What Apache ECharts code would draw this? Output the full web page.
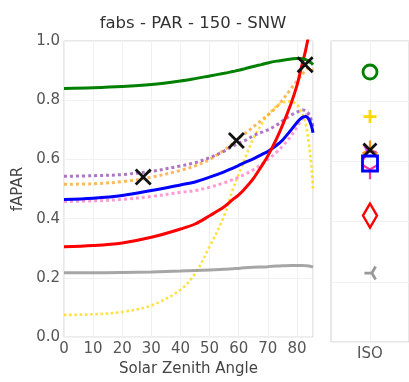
<!DOCTYPE html>
<html>
<head>
<meta charset="utf-8">
<script src="https://cdn.jsdelivr.net/npm/echarts@6/dist/echarts.min.js"></script>
<style>
  html, body { margin: 0; padding: 0; background: #fff; }
  #chart { width: 409px; height: 382px; }
</style>
</head>
<body>
<div id="chart"></div>
<script>
// Solar zenith angles (degrees) at which the curves are sampled
const sza = [0, 10, 20, 30, 40, 45, 50, 55, 58, 60, 62, 65, 68, 70, 73, 75, 78, 80, 81, 82, 83, 84, 85, 85.5];

// fAPAR curves per model
const greenVals  = [0.840, 0.842, 0.846, 0.853, 0.865, 0.873, 0.882, 0.891, 0.897, 0.901, 0.906, 0.914, 0.921, 0.926, 0.932, 0.935, 0.939, 0.941, 0.941, 0.940, 0.937, 0.932, 0.925, 0.920];
const redVals    = [0.305, 0.309, 0.318, 0.337, 0.365, 0.382, 0.410, 0.440, 0.465, 0.480, 0.500, 0.535, 0.580, 0.612, 0.670, 0.715, 0.790, 0.850, 0.890, 0.930, 0.970, 1.020, 1.080, 1.110];
const blueVals   = [0.465, 0.469, 0.478, 0.495, 0.514, 0.524, 0.540, 0.558, 0.571, 0.580, 0.589, 0.602, 0.617, 0.627, 0.648, 0.665, 0.700, 0.725, 0.735, 0.743, 0.745, 0.737, 0.712, 0.690];
const pinkVals   = [0.458, 0.460, 0.465, 0.475, 0.489, 0.495, 0.506, 0.521, 0.532, 0.540, 0.549, 0.565, 0.585, 0.600, 0.625, 0.645, 0.680, 0.710, 0.726, 0.740, 0.750, 0.745, 0.722, 0.700];
const purpleVals = [0.543, 0.545, 0.549, 0.560, 0.578, 0.589, 0.606, 0.628, 0.645, 0.655, 0.663, 0.680, 0.692, 0.700, 0.716, 0.730, 0.750, 0.760, 0.764, 0.767, 0.765, 0.755, 0.730, 0.710];
const orangeVals = [0.516, 0.518, 0.525, 0.540, 0.563, 0.578, 0.600, 0.632, 0.655, 0.672, 0.686, 0.710, 0.734, 0.750, 0.777, 0.800, 0.840, 0.865, 0.877, 0.890, 0.900, 0.909, 0.905, 0.900];
const goldVals   = [0.075, 0.077, 0.085, 0.107, 0.160, 0.215, 0.306, 0.410, 0.500, 0.550, 0.600, 0.670, 0.722, 0.750, 0.780, 0.792, 0.796, 0.785, 0.770, 0.750, 0.720, 0.660, 0.570, 0.500];
const grayVals   = [0.217, 0.217, 0.218, 0.220, 0.223, 0.225, 0.227, 0.229, 0.231, 0.232, 0.234, 0.236, 0.237, 0.238, 0.240, 0.241, 0.242, 0.242, 0.242, 0.242, 0.241, 0.240, 0.238, 0.236];

// Observed fAPAR (black crosses)
const obsSza  = [27.2, 59.2, 82.8];
const obsVals = [0.541, 0.664, 0.920];

// Isotropic (ISO) values per model, right panel
const isoCategories = ['ISO'];
const isoGreen  = [0.897];
const isoGold   = [0.749];
const isoOrange = [0.648];
const isoPurple = [0.632];
const isoObs    = [0.638];
const isoBlue   = [0.593];
const isoPink   = [0.565];
const isoRed    = [0.420];
const isoGray   = [0.229];

// Axis ticks
const xTicks = [0, 10, 20, 30, 40, 50, 60, 70, 80];
const yTicks = [0.0, 0.2, 0.4, 0.6, 0.8, 1.0];

const FONT = 'DejaVu Sans';
const pair = vals => sza.map((x, i) => [x, vals[i]]);

const X_PATH = 'path://M0,0L10,10M10,0L0,10';
const PLUS_PATH = 'path://M5,0L5,10M0,5L10,5';
const DIAMOND_PATH = 'path://M5,0L10,10L5,20L0,10Z';
const TRI_UP_PATH = 'path://M5,5L5,0M5,5L0.67,7.5M5,5L9.33,7.5';
const TRI_DOWN_PATH = 'path://M5,5L5,10M5,5L0.67,2.5M5,5L9.33,2.5';
const TRI_LEFT_PATH = 'path://M5,5L0,5M5,5L7.5,0.67M5,5L7.5,9.33';
const TRI_RIGHT_PATH = 'path://M5,5L10,5M5,5L2.5,0.67M5,5L2.5,9.33';

function curve(name, vals, color, dotted, width) {
  return {
    name, type: 'line', xAxisIndex: 0, yAxisIndex: 0,
    data: pair(vals), showSymbol: false, smooth: 0.35, clip: true,
    lineStyle: { color, width, type: dotted ? 'dotted' : 'solid' },
    z: dotted ? 3 : 4, silent: true
  };
}

function isoMarker(name, vals, symbol, size, color, width, keepAspect = true) {
  return {
    name: name + ' ISO', type: 'scatter', xAxisIndex: 1, yAxisIndex: 1,
    data: isoCategories.map((c, i) => [c, vals[i]]),
    symbol, symbolSize: size, symbolKeepAspect: keepAspect,
    itemStyle: { color: 'rgba(0,0,0,0)', borderColor: color, borderWidth: width, opacity: 1 },
    z: 5, silent: true
  };
}

const axisLabelStyle = { color: '#555', fontFamily: FONT, fontSize: 15 };

const option = {
  backgroundColor: '#fff',
  animation: false,
  title: {
    text: 'fabs - PAR - 150 - SNW',
    left: 188, top: 10, textAlign: 'center',
    textStyle: { color: '#333', fontFamily: FONT, fontSize: 16.5, fontWeight: 'normal' }
  },
  grid: [
    { left: 64, right: 96, top: 41, bottom: 40, show: true, borderColor: '#d0d0d0', borderWidth: 1, backgroundColor: '#fff' },
    { left: 331, right: -4, top: 41, bottom: 40, show: true, borderColor: '#d0d0d0', borderWidth: 1, backgroundColor: '#fff' }
  ],
  xAxis: [
    {
      type: 'value', gridIndex: 0, min: 0, max: 85.5, interval: 10,
      axisLine: { show: false }, axisTick: { show: false },
      axisLabel: Object.assign({ margin: 5, showMaxLabel: false,
        formatter: v => xTicks.includes(v) ? String(v) : '' }, axisLabelStyle),
      splitLine: { show: true, lineStyle: { color: '#f1f1f1', width: 1 } },
      name: 'Solar Zenith Angle', nameLocation: 'middle', nameGap: 22,
      nameTextStyle: { color: '#444', fontFamily: FONT, fontSize: 15 }
    },
    {
      type: 'category', gridIndex: 1, data: isoCategories,
      axisLine: { show: false }, axisTick: { show: false },
      axisLabel: Object.assign({ margin: 5 }, axisLabelStyle),
      splitLine: { show: false }
    }
  ],
  yAxis: [
    {
      type: 'value', gridIndex: 0, min: 0, max: 1, interval: 0.2,
      axisLine: { show: false }, axisTick: { show: false },
      axisLabel: Object.assign({ margin: 4, formatter: v => v.toFixed(1) }, axisLabelStyle),
      splitLine: { show: true, lineStyle: { color: '#f1f1f1', width: 1 } },
      name: 'fAPAR', nameLocation: 'middle', nameGap: 32,
      nameTextStyle: { color: '#444', fontFamily: FONT, fontSize: 15 }
    },
    {
      type: 'value', gridIndex: 1, min: 0, max: 1, interval: 0.2,
      axisLine: { show: false }, axisTick: { show: false },
      axisLabel: { show: false },
      splitLine: { show: true, lineStyle: { color: '#f1f1f1', width: 1 } }
    }
  ],
  series: [
    curve('gray', grayVals, 'rgba(150,150,150,0.85)', false, 3),
    curve('gold', goldVals, 'rgba(255,215,0,0.75)', true, 2.6),
    curve('pink', pinkVals, 'rgba(255,120,200,0.75)', true, 3),
    curve('orange', orangeVals, 'rgba(255,160,40,0.75)', true, 3),
    curve('purple', purpleVals, 'rgba(140,60,170,0.7)', true, 3),
    curve('blue', blueVals, '#0000ff', false, 3),
    curve('red', redVals, '#ff0000', false, 3),
    curve('green', greenVals, '#008000', false, 3),
    {
      name: 'observed', type: 'scatter', xAxisIndex: 0, yAxisIndex: 0,
      data: obsSza.map((x, i) => [x, obsVals[i]]),
      symbol: X_PATH, symbolSize: 15,
      itemStyle: { color: 'rgba(0,0,0,0)', borderColor: '#111', borderWidth: 2.8, opacity: 1 },
      z: 6, silent: true
    },
    {
      type: 'line', xAxisIndex: 1, yAxisIndex: 1, data: [],
      markLine: {
        silent: true, symbol: 'none', label: { show: false },
        lineStyle: { color: '#f1f1f1', width: 1, type: 'solid' },
        data: [{ xAxis: 'ISO' }]
      }
    },
    isoMarker('green', isoGreen, 'circle', 14, '#008000', 2.8),
    isoMarker('gold', isoGold, PLUS_PATH, 13, '#ffd700', 2.8),
    isoMarker('orange', isoOrange, TRI_UP_PATH, 15, '#ff8c00', 2.2),
    isoMarker('purple', isoPurple, TRI_RIGHT_PATH, 15, '#cc33cc', 2.2),
    isoMarker('pink', isoPink, TRI_DOWN_PATH, 17, '#ff3399', 2.2),
    isoMarker('observed', isoObs, X_PATH, 13, '#111', 2.8),
    isoMarker('blue', isoBlue, 'rect', 15, '#0000ff', 2.8),
    isoMarker('red', isoRed, DIAMOND_PATH, [14, 24], '#ff0000', 2.6, false),
    isoMarker('gray', isoGray, TRI_LEFT_PATH, 13, '#999999', 2.8)
  ]
};

const chart = echarts.init(document.getElementById('chart'), null, { renderer: 'canvas' });
chart.setOption(option);
</script>
</body>
</html>
